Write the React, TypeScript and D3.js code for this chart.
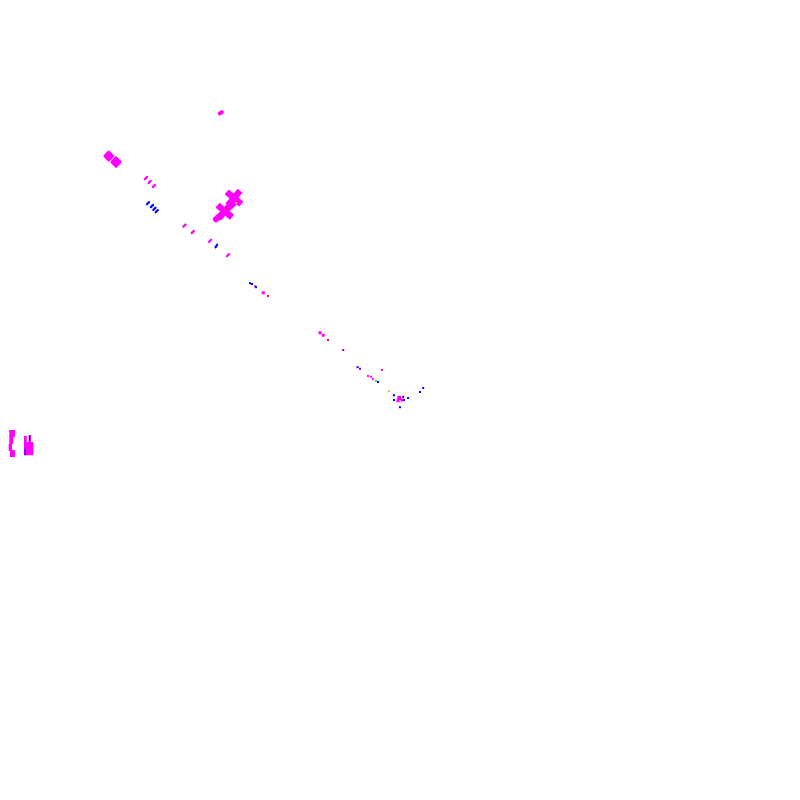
import React from "react";
import * as d3 from "d3";

// values (x: 0-100 left→right, y: 0-100 bottom→top)
const magentaBlobX = [13.6, 14.5, 27.6];
const magentaBlobY = [80.5, 79.75, 85.9];
const magentaBlobR = [4.2, 4.4, 3.2];

const magentaDashX = [18.25, 18.7, 19.25, 23.05, 24.1, 26.25, 28.5];
const magentaDashY = [77.75, 77.25, 76.75, 71.8, 71.0, 69.9, 68.1];

const blueDashX = [18.5, 19.0, 19.3, 19.6, 27.05];
const blueDashY = [74.6, 74.25, 73.9, 73.6, 69.25];

const blueDotX = [31.25, 31.5, 32.0, 44.7, 47.25, 52.9, 52.5, 49.25, 50.4, 51.0, 50.5, 49.25, 50.0];
const blueDotY = [64.6, 64.5, 64.1, 54.1, 52.25, 51.5, 51.0, 50.6, 50.4, 50.25, 50.0, 50.0, 49.1];

const magentaDotX = [32.9, 40.0, 40.4, 47.75, 46.0, 46.4, 46.6, 49.9, 50.25, 49.75];
const magentaDotY = [63.4, 58.4, 58.1, 53.75, 53.0, 52.9, 52.6, 50.25, 50.0, 49.9];
const magentaDotS = [3, 3, 3, 2, 2, 2, 2, 4, 3, 3];

const purpleDotX = [42.9, 45.0, 31.9];
const purpleDotY = [56.25, 53.9, 64.2];

const redDotX = [33.5, 41.0, 28.4];
const redDotY = [63.0, 57.5, 73.9];
const orangeDotX = [48.6, 29.5];
const orangeDotY = [51.1, 74.6];
const greenDotX = [47.0];
const greenDotY = [52.4];

const crossX = [29.25, 28.1];
const crossY = [75.25, 73.6];

// diagonal bar between the crosses
const barX = [27.0, 29.6];
const barY = [72.6, 74.9];

// left-hand glyph pieces
const glyphX0 = [1.16, 1.16, 1.09, 1.25, 3.0, 3.59, 3.0];
const glyphX1 = [1.875, 1.66, 1.5, 1.875, 3.34, 3.875, 4.16];
const glyphY0 = [46.25, 45.375, 44.5, 43.75, 45.5, 45.6, 44.75];
const glyphY1 = [45.375, 44.5, 43.6, 42.875, 43.9, 44.6, 43.1];
const glyphBlueX = [3.15, 3.69];
const glyphBlueY0 = [43.9, 45.6];
const glyphBlueY1 = [43.1, 44.9];

const W = 800;
const H = 800;
const x = d3.scaleLinear().domain([0, 100]).range([0, W]);
const y = d3.scaleLinear().domain([0, 100]).range([H, 0]);

const MAG = "#ff00ff";
const BLUE = "#0000ff";
const ANG = 40;

export default function App() {
  const crossPath = (s: number, t: number) =>
    `M${-s},${-t}H${-t}V${-s}H${t}V${-t}H${s}V${t}H${t}V${s}H${-t}V${t}H${-s}Z`;
  return (
    <svg
      width={W}
      height={H}
      style={{ position: "fixed", left: 0, top: 0, background: "#fff" }}
    >
      {magentaBlobX.map((v, i) => (
        <rect
          key={"mb" + i}
          x={x(v) - magentaBlobR[i]}
          y={y(magentaBlobY[i]) - (i === 2 ? 2 : magentaBlobR[i])}
          width={magentaBlobR[i] * 2}
          height={i === 2 ? 4 : magentaBlobR[i] * 2}
          rx={i === 2 ? 2 : 1.5}
          transform={`rotate(${i === 2 ? -30 : 45},${x(v)},${y(magentaBlobY[i])})`}
          fill={MAG}
        />
      ))}
      {magentaDashX.map((v, i) => (
        <rect
          key={"md" + i}
          x={x(v) - 2.6}
          y={y(magentaDashY[i]) - 1.1}
          width={5.2}
          height={2.2}
          rx={1}
          transform={`rotate(-45,${x(v)},${y(magentaDashY[i])})`}
          fill={MAG}
        />
      ))}
      {blueDashX.map((v, i) => (
        <rect
          key={"bd" + i}
          x={x(v) - 2.6}
          y={y(blueDashY[i]) - 1.1}
          width={5.2}
          height={2.2}
          rx={1}
          transform={`rotate(${i === 4 ? -55 : -45},${x(v)},${y(blueDashY[i])})`}
          fill={BLUE}
        />
      ))}
      <line
        x1={x(barX[0])}
        y1={y(barY[0])}
        x2={x(barX[1])}
        y2={y(barY[1])}
        stroke={MAG}
        strokeWidth={6}
        strokeLinecap="round"
      />
      {crossX.map((v, i) => (
        <path
          key={"cr" + i}
          d={crossPath(9.5, 3.2)}
          transform={`translate(${x(v)},${y(crossY[i])}) rotate(${ANG})`}
          fill={MAG}
        />
      ))}
      {blueDotX.map((v, i) => (
        <rect key={"bdot" + i} x={x(v) - 1} y={y(blueDotY[i]) - 1} width={2} height={2} fill={BLUE} />
      ))}
      {magentaDotX.map((v, i) => (
        <rect
          key={"mdot" + i}
          x={x(v) - magentaDotS[i] / 2}
          y={y(magentaDotY[i]) - magentaDotS[i] / 2}
          width={magentaDotS[i]}
          height={magentaDotS[i]}
          fill={MAG}
        />
      ))}
      {purpleDotX.map((v, i) => (
        <rect key={"pd" + i} x={x(v) - 1} y={y(purpleDotY[i]) - 1} width={2} height={2} fill="#8000c0" />
      ))}
      {redDotX.map((v, i) => (
        <rect key={"rd" + i} x={x(v) - 1} y={y(redDotY[i]) - 1} width={2} height={2} fill="#ff0040" />
      ))}
      {orangeDotX.map((v, i) => (
        <rect key={"od" + i} x={x(v) - 1} y={y(orangeDotY[i]) - 1} width={2} height={2} fill="#f0a030" />
      ))}
      {greenDotX.map((v, i) => (
        <rect key={"gd" + i} x={x(v) - 1} y={y(greenDotY[i]) - 1} width={2} height={2} fill="#60c060" />
      ))}
      {glyphX0.map((v, i) => (
        <rect
          key={"gl" + i}
          x={x(v)}
          y={y(glyphY0[i])}
          width={x(glyphX1[i]) - x(v)}
          height={y(glyphY1[i]) - y(glyphY0[i])}
          fill={MAG}
        />
      ))}
      {glyphBlueX.map((v, i) => (
        <line
          key={"gb" + i}
          x1={x(v)}
          x2={x(v)}
          y1={y(glyphBlueY0[i])}
          y2={y(glyphBlueY1[i])}
          stroke={BLUE}
          strokeWidth={1.2}
        />
      ))}
    </svg>
  );
}
